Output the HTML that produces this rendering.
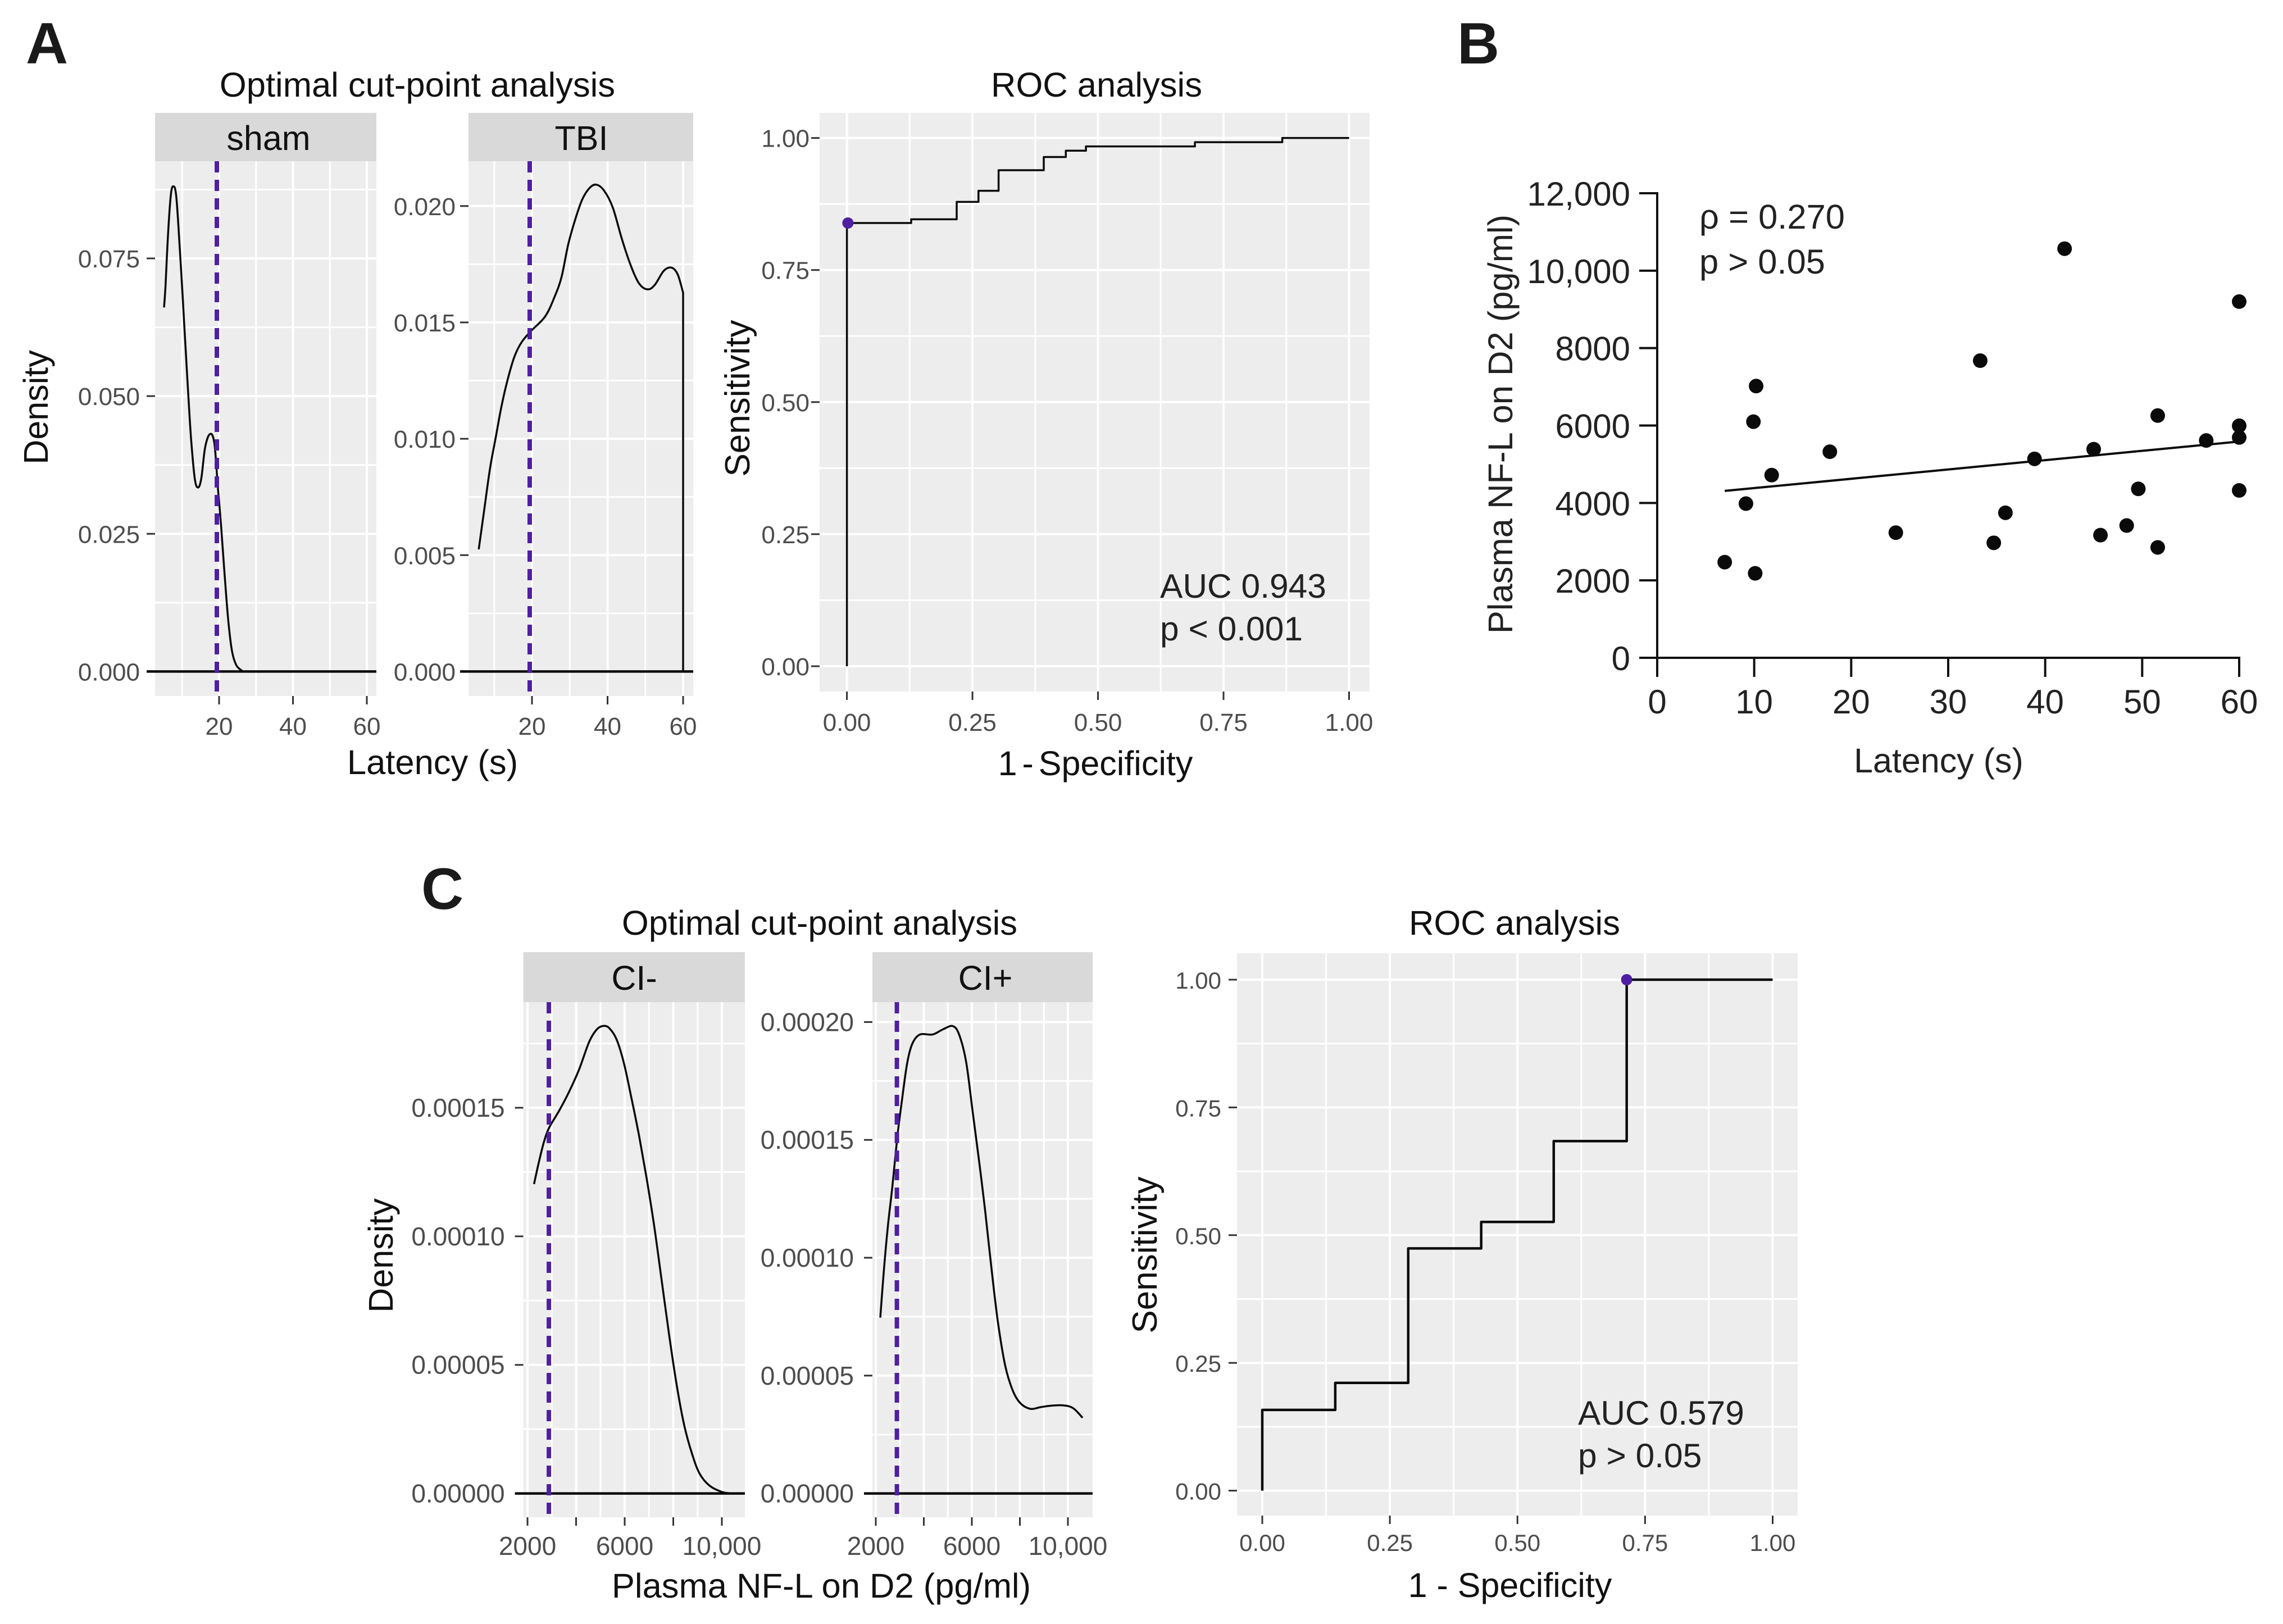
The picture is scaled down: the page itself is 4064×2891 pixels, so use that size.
<!DOCTYPE html>
<html lang="en">
<head>
<meta charset="utf-8">
<title>Latency and plasma NF-L cut-point and ROC analysis</title>
<style>
  html, body { margin: 0; padding: 0; background: #ffffff; }
  svg { display: block; }
  text { font-family: "Liberation Sans", Arial, sans-serif; }
</style>
</head>
<body>
<svg id="figure" xmlns="http://www.w3.org/2000/svg" width="4064" height="2891" viewBox="0 0 4064 2891">
  <rect x="0" y="0" width="4064" height="2891" fill="#ffffff"/>
  <g id="marks"></g>
  <text x="46" y="113" font-size="104" font-weight="bold" fill="#1a1a1a">A</text>
  <text x="2594" y="113" font-size="104" font-weight="bold" fill="#1a1a1a">B</text>
  <text x="750" y="1618" font-size="104" font-weight="bold" fill="#1a1a1a">C</text>

  <text x="743" y="172" font-size="61.5" text-anchor="middle" fill="#111">Optimal cut-point analysis</text>
  <text x="85" y="725" font-size="61" text-anchor="middle" fill="#111" transform="rotate(-90 85 725)">Density</text>
  <text x="770" y="1378" font-size="61.5" text-anchor="middle" fill="#111">Latency (s)</text>

  <text x="1952" y="172" font-size="61.5" text-anchor="middle" fill="#111">ROC analysis</text>
  <text x="1334" y="709" font-size="62" text-anchor="middle" fill="#111" transform="rotate(-90 1334 709)">Sensitivity</text>
  <text x="1950" y="1380" font-size="61" text-anchor="middle" word-spacing="-8" fill="#111">1 - Specificity</text>
  <text x="2065" y="1064" font-size="60.5" fill="#222">AUC 0.943</text>
  <text x="2065" y="1140" font-size="60.5" fill="#222">p &lt; 0.001</text>

  <text x="2692" y="755" font-size="61.5" text-anchor="middle" fill="#222" transform="rotate(-90 2692 755)">Plasma NF-L on D2 (pg/ml)</text>
  <text x="3451" y="1375" font-size="61" text-anchor="middle" fill="#222">Latency (s)</text>
  <text x="3025" y="407" font-size="61.5" fill="#222">ρ = 0.270</text>
  <text x="3025" y="487" font-size="61.5" fill="#222">p &gt; 0.05</text>

  <text x="1459" y="1664" font-size="61.5" text-anchor="middle" fill="#111">Optimal cut-point analysis</text>
  <text x="699" y="2235" font-size="61" text-anchor="middle" fill="#111" transform="rotate(-90 699 2235)">Density</text>
  <text x="1462" y="2844" font-size="61.5" text-anchor="middle" fill="#111">Plasma NF-L on D2 (pg/ml)</text>

  <text x="2696" y="1664" font-size="61.5" text-anchor="middle" fill="#111">ROC analysis</text>
  <text x="2059" y="2234" font-size="62" text-anchor="middle" fill="#111" transform="rotate(-90 2059 2234)">Sensitivity</text>
  <text x="2688" y="2843" font-size="61" text-anchor="middle" fill="#111">1 - Specificity</text>
  <text x="2809" y="2536" font-size="60.5" fill="#222">AUC 0.579</text>
  <text x="2809" y="2612" font-size="60.5" fill="#222">p &gt; 0.05</text>
</svg>

<script>
// ---- Panel A: sham density ----
const shamLatency = [5.1,5.5,6.1,6.9,7.6,8.4,9.3,10.2,10.9,11.7,12.4,13.4,14.3,15.2,16.2,17.5,18.7,19.7,20.5,21.5,22.5,23.5,24.7,26.3];
const shamDensity = [0.0661,0.0701,0.0784,0.0863,0.0881,0.0863,0.0775,0.0673,0.059,0.0498,0.0424,0.0351,0.0334,0.0351,0.0406,0.0431,0.0415,0.0332,0.0268,0.0175,0.0092,0.0037,0.0011,0.0001];
// ---- Panel A: TBI density ----
const tbiLatency = [5.9,7.4,8.9,10.4,11.9,13.6,15.4,17.3,19.8,23.5,25.9,27.8,29.6,31.5,33.3,35.2,37,39.1,41.4,43.8,46.3,48.4,50.6,52.5,54.9,57,58.6,60,60];
const tbiDensity = [0.00525,0.007,0.00874,0.01005,0.01137,0.01257,0.01355,0.01416,0.01464,0.01526,0.01607,0.01694,0.01836,0.01945,0.02028,0.02077,0.02092,0.02066,0.01993,0.01858,0.01738,0.01666,0.01642,0.01661,0.01722,0.01735,0.01705,0.01628,0];
const latencyCutpoint = [19.4];
// ---- Panel A: ROC ----
const rocAFpr = [0,0,0.128,0.128,0.2186,0.2186,0.262,0.262,0.302,0.302,0.392,0.392,0.436,0.436,0.476,0.476,0.693,0.693,0.867,0.867,1];
const rocASens = [0,0.839,0.839,0.846,0.846,0.879,0.879,0.9,0.9,0.939,0.939,0.964,0.964,0.976,0.976,0.984,0.984,0.992,0.992,1,1];
const rocAOptimal = [0.002,0.839];
// ---- Panel B: scatter ----
const scatterLatency = [6.96,9.15,9.92,10.2,10.1,11.8,17.8,24.6,33.3,34.7,35.9,38.9,42,45,45.7,48.4,49.6,51.6,51.6,56.6,60,60,60,60];
const scatterNfl = [2471,3983,6099,7019,2182,4719,5323,3233,7676,2970,3746,5139,10568,5389,3168,3417,4364,6257,2852,5613,9201,5994,5691,4324];
const fitLatency = [6.96,60];
const fitNfl = [4311,5586];
const scatterXTicks = [0,10,20,30,40,50,60];
const scatterYTicks = [0,2000,4000,6000,8000,10000,12000];
const scatterYLabels = ["0","2000","4000","6000","8000","10,000","12,000"];
// ---- Panel C: CI- density ----
const ciNegNfl = [2268,2474,2680,2887,3300,3711,4124,4536,4846,5114,5361,5670,5980,6289,6598,6908,7217,7526,7836,8145,8454,8763,9073,9485,10000,10413];
const ciNegDensity = [0.0001203,0.0001291,0.0001368,0.0001422,0.0001488,0.0001562,0.0001649,0.0001756,0.0001804,0.0001818,0.000181,0.0001765,0.0001669,0.0001533,0.0001388,0.0001223,0.0001039,0.0000826,0.0000612,0.0000419,0.0000264,0.0000157,0.0000079,0.0000031,0.0000006,0];
// ---- Panel C: CI+ density ----
const ciPosNfl = [2188,2334,2502,2690,2899,3108,3317,3526,3839,4362,4780,5198,5469,5762,6034,6305,6556,6807,7079,7392,7706,8019,8437,8855,9273,9796,10214,10611];
const ciPosDensity = [0.0000746,0.0000943,0.0001133,0.0001302,0.0001514,0.0001683,0.0001831,0.0001909,0.0001947,0.0001947,0.0001968,0.0001983,0.0001947,0.0001831,0.0001619,0.0001408,0.0001197,0.0000964,0.0000732,0.0000541,0.0000436,0.0000383,0.0000359,0.0000366,0.0000372,0.0000374,0.0000362,0.0000321];
const nflCutpoint = [2880];
// ---- Panel C: ROC ----
const rocCFpr = [0,0,0.143,0.143,0.286,0.286,0.429,0.429,0.571,0.571,0.714,0.714,1];
const rocCSens = [0,0.158,0.158,0.211,0.211,0.474,0.474,0.526,0.526,0.684,0.684,1,1];
const rocCOptimal = [0.714,1];
// ---- Shared tick values and labels ----
const latencyTicks = [20,40,60];
const latencyMinor = [10,30,50];
const latencyLabels = ["20","40","60"];
const shamYTicks = [0,0.025,0.05,0.075];
const shamYMinor = [0.0125,0.0375,0.0625,0.0875];
const shamYLabels = ["0.000","0.025","0.050","0.075"];
const tbiYTicks = [0,0.005,0.01,0.015,0.02];
const tbiYMinor = [0.0025,0.0075,0.0125,0.0175];
const tbiYLabels = ["0.000","0.005","0.010","0.015","0.020"];
const rocTicks = [0,0.25,0.5,0.75,1];
const rocMinor = [0.125,0.375,0.625,0.875];
const rocLabels = ["0.00","0.25","0.50","0.75","1.00"];
const nflTicks = [2000,4000,6000,8000,10000];
const nflMinor = [3000,5000,7000,9000];
const nflLabels = ["2000","","6000","","10,000"];
const ciNegYTicks = [0,0.00005,0.0001,0.00015];
const ciNegYMinor = [0.000025,0.000075,0.000125,0.000175];
const ciNegYLabels = ["0.00000","0.00005","0.00010","0.00015"];
const ciPosYTicks = [0,0.00005,0.0001,0.00015,0.0002];
const ciPosYMinor = [0.000025,0.000075,0.000125,0.000175];
const ciPosYLabels = ["0.00000","0.00005","0.00010","0.00015","0.00020"];

const NS = 'http://www.w3.org/2000/svg';
const fig = document.getElementById('marks');

function make(tag, name, parent) {
  const el = document.createElementNS(NS, tag);
  
  
  (parent || fig).appendChild(el);
  return el;
}
function linear(v0, p0, v1, p1) {
  return function (v) { return p0 + (v - v0) * (p1 - p0) / (v1 - v0); };
}
function rect(name, parent, x, y, w, h, fill) {
  const el = make('rect', name, parent);
  el.setAttribute('x', x); el.setAttribute('y', y);
  el.setAttribute('width', w); el.setAttribute('height', h);
  el.setAttribute('fill', fill);
  return el;
}
function line(name, parent, x1, y1, x2, y2, stroke, width, dash) {
  const el = make('line', name, parent);
  el.setAttribute('x1', x1); el.setAttribute('y1', y1);
  el.setAttribute('x2', x2); el.setAttribute('y2', y2);
  el.setAttribute('stroke', stroke); el.setAttribute('stroke-width', width);
  if (dash) el.setAttribute('stroke-dasharray', dash);
  return el;
}
function label(name, parent, str, x, y, size, anchor, fill) {
  const el = make('text', name, parent);
  el.setAttribute('x', x); el.setAttribute('y', y);
  el.setAttribute('font-size', size); el.setAttribute('text-anchor', anchor);
  el.setAttribute('fill', fill);
  el.textContent = str;
  return el;
}
function strokePath(name, parent, d, width) {
  const el = make('path', name, parent);
  el.setAttribute('d', d);
  el.setAttribute('fill', 'none');
  el.setAttribute('stroke', '#0a0a0a');
  el.setAttribute('stroke-width', width);
  el.setAttribute('stroke-linejoin', 'round');
  return el;
}
function polyline(name, parent, xs, ys, sx, sy, width) {
  let d = '';
  for (let i = 0; i < xs.length; i++) d += (i ? 'L' : 'M') + sx(xs[i]).toFixed(1) + ' ' + sy(ys[i]).toFixed(1);
  return strokePath(name, parent, d, width);
}
// Catmull-Rom smoothing through the data points; a vertical drop stays straight.
function smoothCurve(name, parent, xs, ys, sx, sy, width) {
  const n = xs.length;
  const px = xs.map(sx);
  const py = ys.map(sy);
  let d = 'M' + px[0].toFixed(1) + ' ' + py[0].toFixed(1);
  for (let i = 0; i < n - 1; i++) {
    if (xs[i] === xs[i + 1]) {
      d += 'L' + px[i + 1].toFixed(1) + ' ' + py[i + 1].toFixed(1);
      continue;
    }
    const a = i > 0 ? i - 1 : i;
    const b = (i + 2 < n && xs[i + 2] !== xs[i + 1]) ? i + 2 : i + 1;
    const c1x = px[i] + (px[i + 1] - px[a]) / 6;
    const c1y = py[i] + (py[i + 1] - py[a]) / 6;
    const c2x = px[i + 1] - (px[b] - px[i]) / 6;
    const c2y = py[i + 1] - (py[b] - py[i]) / 6;
    d += 'C' + c1x.toFixed(1) + ' ' + c1y.toFixed(1) + ' ' + c2x.toFixed(1) + ' ' + c2y.toFixed(1) + ' ' + px[i + 1].toFixed(1) + ' ' + py[i + 1].toFixed(1);
  }
  return strokePath(name, parent, d, width);
}

function ggPanel(o) {
  const g = make('g', o.name, fig);
  if (o.strip) {
    rect(o.name + '-strip', g, o.x0, o.stripTop, o.x1 - o.x0, o.y0 - o.stripTop, '#d9d9d9');
    label(o.name + '-strip-label', g, o.strip, o.stripCx, o.stripBase, 61, 'middle', '#111');
  }
  rect(o.name + '-background', g, o.x0, o.y0, o.x1 - o.x0, o.y1 - o.y0, '#ededed');
  o.xMinor.forEach(function (v) { line('x-minor-gridline', g, o.sx(v), o.y0, o.sx(v), o.y1, '#ffffff', 3); });
  o.yMinor.forEach(function (v) { line('y-minor-gridline', g, o.x0, o.sy(v), o.x1, o.sy(v), '#ffffff', 3); });
  o.xTicks.forEach(function (v, i) {
    line('x-major-gridline', g, o.sx(v), o.y0, o.sx(v), o.y1, '#ffffff', 4);
    line('x-tick', g, o.sx(v), o.y1, o.sx(v), o.y1 + 15, '#333333', 3);
    if (o.xLabels[i]) label('x-tick-label', g, o.xLabels[i], o.sx(v), o.xLabelBase, o.fontSize, 'middle', '#4d4d4d');
  });
  o.yTicks.forEach(function (v, i) {
    line('y-major-gridline', g, o.x0, o.sy(v), o.x1, o.sy(v), '#ffffff', 4);
    line('y-tick', g, o.x0 - 15, o.sy(v), o.x0, o.sy(v), '#333333', 3);
    label('y-tick-label', g, o.yLabels[i], o.x0 - o.labelGap, o.sy(v) + 16, o.fontSize, 'end', '#4d4d4d');
  });
  return g;
}

function densityPanel(o, xs, ys, cut) {
  const g = ggPanel(o);
  smoothCurve(o.name + '-density-curve', g, xs, ys, o.sx, o.sy, 3.5);
  line(o.name + '-zero-line', g, o.x0 - 15, o.sy(0), o.x1, o.sy(0), '#0a0a0a', 4.5);
  line(o.name + '-cutpoint-line', g, o.sx(cut[0]), o.y0, o.sx(cut[0]), o.y1, '#4f1fa3', 8, '20 13');
}

function rocPanel(o, xs, ys, opt, width) {
  const g = ggPanel(o);
  polyline(o.name + '-roc-curve', g, xs, ys, o.sx, o.sy, width);
  const dot = make('circle', o.name + '-optimal-point', g);
  dot.setAttribute('cx', o.sx(opt[0]));
  dot.setAttribute('cy', o.sy(opt[1]));
  dot.setAttribute('r', 10);
  dot.setAttribute('fill', '#4f1fa3');
}

densityPanel({
  name: 'sham-panel', x0: 276, x1: 670, y0: 287, y1: 1239, stripTop: 201,
  strip: 'sham', stripCx: 478, stripBase: 267, fontSize: 44, labelGap: 27,
  sx: linear(20, 390, 60, 653), sy: linear(0, 1195.4, 0.075, 460),
  xTicks: latencyTicks, xMinor: latencyMinor, xLabels: latencyLabels, xLabelBase: 1308,
  yTicks: shamYTicks, yMinor: shamYMinor, yLabels: shamYLabels
}, shamLatency, shamDensity, latencyCutpoint);

densityPanel({
  name: 'tbi-panel', x0: 834, x1: 1234, y0: 287, y1: 1239, stripTop: 201,
  strip: 'TBI', stripCx: 1035, stripBase: 267, fontSize: 44, labelGap: 23,
  sx: linear(20, 947, 60, 1216), sy: linear(0, 1195.4, 0.02, 366.8),
  xTicks: latencyTicks, xMinor: latencyMinor, xLabels: latencyLabels, xLabelBase: 1308,
  yTicks: tbiYTicks, yMinor: tbiYMinor, yLabels: tbiYLabels
}, tbiLatency, tbiDensity, latencyCutpoint);

rocPanel({
  name: 'roc-panel-a', x0: 1459, x1: 2438, y0: 201, y1: 1231, fontSize: 44, labelGap: 18,
  sx: linear(0, 1507.6, 1, 2401.5), sy: linear(0, 1186, 1, 245.6),
  xTicks: rocTicks, xMinor: rocMinor, xLabels: rocLabels, xLabelBase: 1301,
  yTicks: rocTicks, yMinor: rocMinor, yLabels: rocLabels
}, rocAFpr, rocASens, rocAOptimal, 3.5);

(function scatterPanel() {
  const g = make('g', 'scatter-panel', fig);
  const sx = linear(0, 2950, 60, 3986);
  const sy = linear(0, 1171, 12000, 344);
  line('x-axis-line', g, sx(0) - 2, sy(0), sx(60) + 2, sy(0), '#111111', 4);
  line('y-axis-line', g, sx(0), sy(0) + 2, sx(0), sy(12000) - 2, '#111111', 4);
  scatterXTicks.forEach(function (v) {
    line('x-tick', g, sx(v), sy(0), sx(v), sy(0) + 34, '#111111', 4);
    label('x-tick-label', g, String(v), sx(v), 1270, 60, 'middle', '#222222');
  });
  scatterYTicks.forEach(function (v, i) {
    line('y-tick', g, sx(0) - 32, sy(v), sx(0), sy(v), '#111111', 4);
    label('y-tick-label', g, scatterYLabels[i], 2902, sy(v) + 22, 60, 'end', '#222222');
  });
  polyline('regression-line', g, fitLatency, fitNfl, sx, sy, 4);
  scatterLatency.forEach(function (v, i) {
    const dot = make('circle', 'scatter-point', g);
    dot.setAttribute('cx', sx(v));
    dot.setAttribute('cy', sy(scatterNfl[i]));
    dot.setAttribute('r', 13);
    dot.setAttribute('fill', '#0a0a0a');
  });
})();

densityPanel({
  name: 'ci-negative-panel', x0: 931.6, x1: 1326, y0: 1784, y1: 2701, stripTop: 1695,
  strip: 'CI-', stripCx: 1129, stripBase: 1762, fontSize: 46, labelGap: 33,
  sx: linear(2000, 939, 10000, 1285), sy: linear(0, 2658.6, 0.00015, 1972),
  xTicks: nflTicks, xMinor: nflMinor, xLabels: nflLabels, xLabelBase: 2768,
  yTicks: ciNegYTicks, yMinor: ciNegYMinor, yLabels: ciNegYLabels
}, ciNegNfl, ciNegDensity, nflCutpoint);

densityPanel({
  name: 'ci-positive-panel', x0: 1553, x1: 1945, y0: 1784, y1: 2701, stripTop: 1695,
  strip: 'CI+', stripCx: 1754, stripBase: 1762, fontSize: 46, labelGap: 33,
  sx: linear(2000, 1559, 10000, 1901), sy: linear(0, 2658.6, 0.0002, 1819.4),
  xTicks: nflTicks, xMinor: nflMinor, xLabels: nflLabels, xLabelBase: 2768,
  yTicks: ciPosYTicks, yMinor: ciPosYMinor, yLabels: ciPosYLabels
}, ciPosNfl, ciPosDensity, nflCutpoint);

rocPanel({
  name: 'roc-panel-c', x0: 2202, x1: 3200, y0: 1697, y1: 2698, fontSize: 42, labelGap: 28,
  sx: linear(0, 2247, 1, 3155.5), sy: linear(0, 2653.6, 1, 1744),
  xTicks: rocTicks, xMinor: rocMinor, xLabels: rocLabels, xLabelBase: 2761,
  yTicks: rocTicks, yMinor: rocMinor, yLabels: rocLabels
}, rocCFpr, rocCSens, rocCOptimal, 4.5);
</script>
</body>
</html>
